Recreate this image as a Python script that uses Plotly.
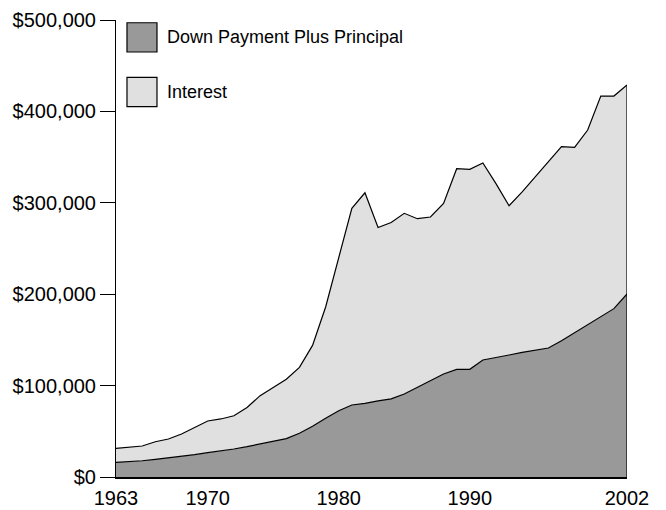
# import third party libraries
import plotly.graph_objects as go

# data (values in dollars)
years = list(range(1963, 2003))

principal = [
    16100, 16800, 17800, 19300, 20800, 22200, 24400, 26600, 28400, 30600,
    33200, 36100, 39000, 42000, 47800, 55500, 64200, 72500, 78800, 80600,
    83300, 85500, 90800, 98100, 106100, 112700, 117800, 117800, 128000, 130500,
    133500, 136400, 138900, 141100, 149100, 157900, 167000, 175400, 184200, 200200,
]

interest = [
    15300, 16000, 16100, 19300, 20800, 24800, 29600, 34700, 35100, 36400,
    42800, 52900, 59000, 65000, 72200, 88500, 121800, 168500, 215200, 230400,
    189700, 193000, 197700, 184500, 178400, 186700, 219500, 218800, 215500, 190500,
    163300, 175600, 189700, 203200, 212300, 202800, 212600, 241400, 232600, 228700,
]

series_names = ["Down Payment Plus Principal", "Interest"]
series_colors = ["#999999", "#e0e0e0"]

x_tickvals = [1963, 1970, 1980, 1990, 2002]
y_tickvals = [0, 100000, 200000, 300000, 400000, 500000]
y_ticktext = ["$0", "$100,000", "$200,000", "$300,000", "$400,000", "$500,000"]

FONT = "Liberation Sans, Arial, sans-serif"

fig = go.Figure()

# stacked areas
for name, values, color in zip(series_names, [principal, interest], series_colors):
    fig.add_trace(
        go.Scatter(
            x=years,
            y=values,
            name=name,
            mode="lines",
            stackgroup="cost",
            fillcolor=color,
            line=dict(color="black", width=1.2),
            showlegend=False,
        )
    )

# closing edge on the right hand side
fig.add_trace(
    go.Scatter(
        x=[years[-1], years[-1]],
        y=[0, principal[-1] + interest[-1]],
        mode="lines",
        line=dict(color="black", width=1.2),
        showlegend=False,
        hoverinfo="skip",
    )
)

fig.update_layout(
    width=666,
    height=510,
    margin=dict(l=116, r=39, t=20, b=33),
    paper_bgcolor="white",
    plot_bgcolor="white",
    font=dict(family=FONT, size=20, color="black"),
)

fig.update_xaxes(
    range=[1963, 2002],
    tickvals=x_tickvals,
    ticks="",
    ticklabelstandoff=2,
    showgrid=False,
    zeroline=False,
    showline=True,
    linecolor="black",
    linewidth=2,
    automargin=False,
)

fig.update_yaxes(
    range=[0, 500000],
    tickvals=y_tickvals,
    ticktext=y_ticktext,
    ticks="outside",
    ticklen=15,
    tickcolor="black",
    tickwidth=1,
    showgrid=False,
    zeroline=False,
    showline=True,
    linecolor="black",
    linewidth=1,
    automargin=False,
)

# hand drawn legend with large square swatches
legend_rows = [0.962, 0.8425]
for name, color, yc in zip(series_names, series_colors, legend_rows):
    fig.add_shape(
        type="rect",
        xref="paper",
        yref="paper",
        x0=0.0215,
        x1=0.0802,
        y0=yc - 0.032,
        y1=yc + 0.032,
        fillcolor=color,
        line=dict(color="black", width=1.2),
    )
    fig.add_annotation(
        xref="paper",
        yref="paper",
        x=0.096,
        y=yc,
        xanchor="left",
        yanchor="middle",
        text=name,
        showarrow=False,
        font=dict(family=FONT, size=18, color="black"),
    )

fig.write_html(
    "out.html",
    config={"displayModeBar": False},
    post_script="document.body.style.margin='0';",
)
